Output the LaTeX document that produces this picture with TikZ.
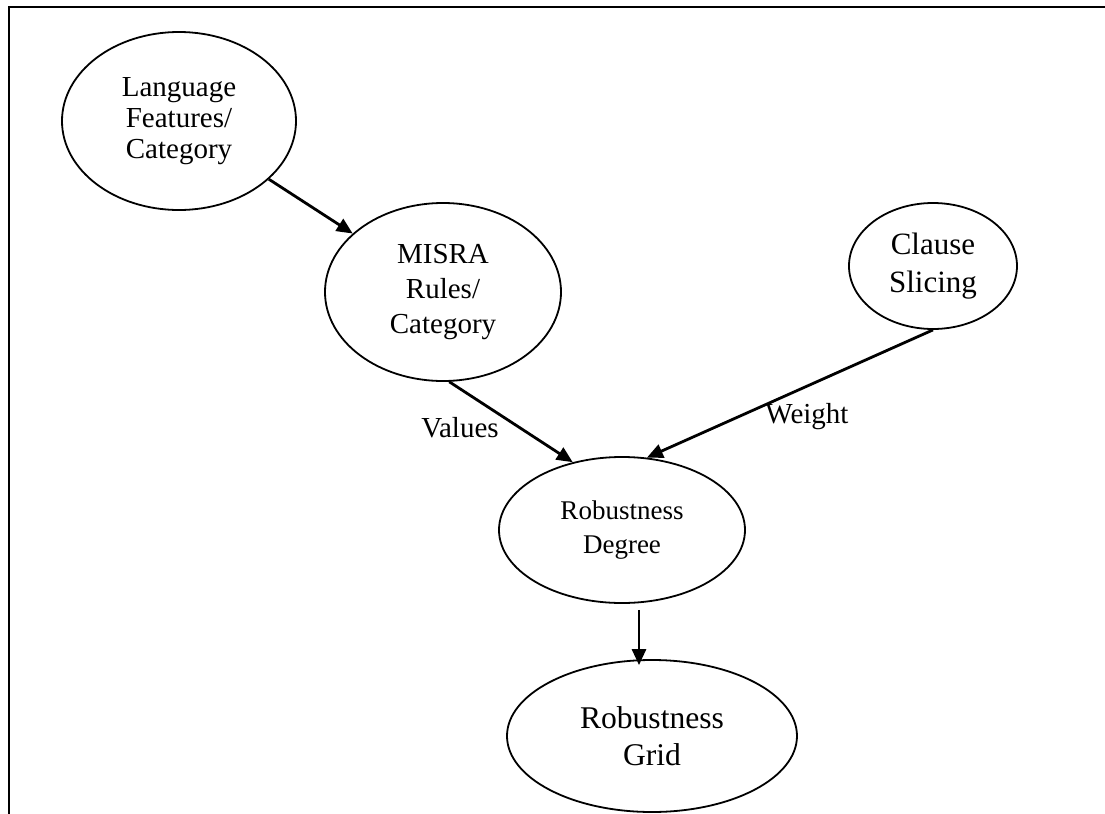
\documentclass[tikz,border=0pt]{standalone}
\usepackage{fontspec}
\setmainfont{Liberation Serif}
\usetikzlibrary{positioning}
\usetikzlibrary{arrows.meta}
\usetikzlibrary{shapes.geometric}

\begin{document}
\begin{tikzpicture}[
    x=0.5pt, y=-0.5pt,
    bubble/.style={
      ellipse,
      draw,
      line width=0.9pt,
      inner sep=0pt,
      align=center,
    },
    lbl/.style={
      font=\fontsize{14.5}{17}\selectfont,
    },
    flow/.style={
      -{Triangle[length=8pt,width=7pt]},
      line width=1.4pt,
    },
    ]
    \useasboundingbox (0,0) rectangle (1105,814);
    \draw[line width=1.3pt] (9,814) -- (9,7) -- (1105,7);

    \node[bubble, minimum width=117pt, minimum height=89pt,
      font=\fontsize{14.5}{15.5}\selectfont] (lang) at (179,121) {
      Language \\ Features/ \\ Category
    };
    \node[bubble, minimum width=118pt, minimum height=89pt,
      font=\fontsize{14.5}{17.5}\selectfont] (misra) at (443,292) {
      MISRA \\ Rules/ \\ Category
    };
    \node[bubble, minimum width=84pt, minimum height=63pt,
      font=\fontsize{15.5}{19}\selectfont] (clause) at (933,266) {
      Clause \\ Slicing
    };
    \node[bubble, minimum width=123pt, minimum height=73pt,
      font=\fontsize{13.5}{17}\selectfont] (degree) at (622,530) {
      Robustness \\ Degree
    };
    \node[bubble, minimum width=145pt, minimum height=76pt,
      font=\fontsize{15.8}{18.5}\selectfont] (grid) at (652,736) {
      Robustness \\ Grid
    };
    \node[lbl] (values) at (460,428) {Values};
    \node[lbl] (weight) at (807,417) {Weight};

    \draw[flow] (lang) -- (misra);
    \draw[flow] (misra.-86) -- (degree.126);
    \draw[flow] (clause.south) -- (degree.71);
    \draw[flow] ([xshift=8.5pt,yshift=-3pt]degree.south)
      -- ([xshift=8.5pt,yshift=-3pt]degree.south |- grid.north);
  \end{tikzpicture}
\end{document}
